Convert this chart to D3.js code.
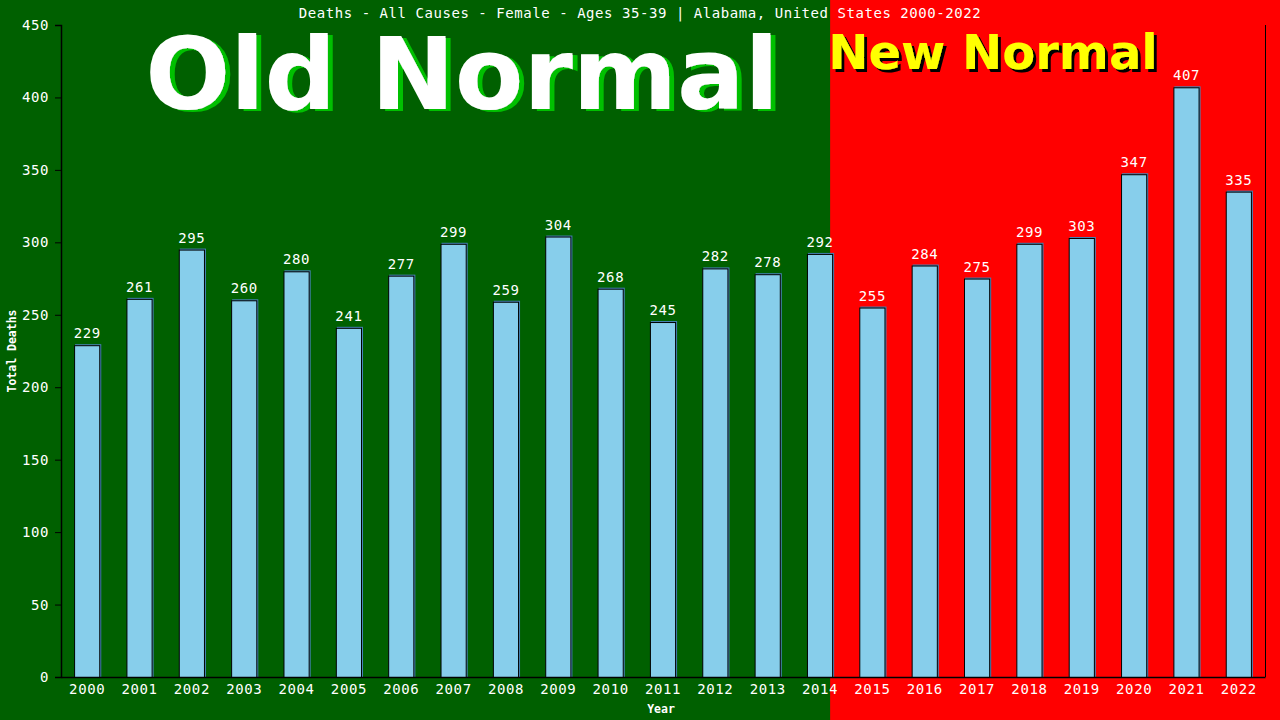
<!DOCTYPE html>
<html><head><meta charset="utf-8">
<script src="https://cdn.jsdelivr.net/npm/d3@7"></script>
<style>html,body{margin:0;padding:0;background:#006000;}svg{display:block;}</style>
</head><body>
<svg id="c" width="1280" height="720"></svg>
<script>
const years = ["2000","2001","2002","2003","2004","2005","2006","2007","2008","2009","2010","2011","2012","2013","2014","2015","2016","2017","2018","2019","2020","2021","2022"];
const deaths = [229,261,295,260,280,241,277,299,259,304,268,245,282,278,292,255,284,275,299,303,347,407,335];
const yTicks = [0,50,100,150,200,250,300,350,400,450];
const titleText = "Deaths - All Causes - Female - Ages 35-39 | Alabama, United States 2000-2022";
const lastOldYear = "2014";

const W = 1280, H = 720;
const m = {l:61, r:15, t:25, b:43};
const svg = d3.select("#c");
const x = d3.scaleBand().domain(years).range([m.l, W - m.r]).paddingInner(0.5).paddingOuter(0.25);
const y = d3.scaleLinear().domain([0,450]).range([H - m.b, m.t]);
const mono = "'DejaVu Sans Mono', 'Liberation Mono', monospace";

const defs = svg.append("defs");
defs.append("filter").attr("id","shGreen").attr("x","-10%").attr("y","-10%").attr("width","120%").attr("height","130%")
  .append("feDropShadow").attr("dx",5).attr("dy",2).attr("stdDeviation",0).attr("flood-color","#00c000").attr("flood-opacity",1);
defs.append("filter").attr("id","shBlack").attr("x","-10%").attr("y","-10%").attr("width","120%").attr("height","130%")
  .append("feDropShadow").attr("dx",3).attr("dy",3).attr("stdDeviation",0).attr("flood-color","#000").attr("flood-opacity",1);

// backgrounds
const splitX = x(lastOldYear) + x.bandwidth() - 3;
svg.append("rect").attr("x",0).attr("y",0).attr("width",splitX).attr("height",H).attr("fill","#006000");
svg.append("rect").attr("x",splitX).attr("y",0).attr("width",W-splitX).attr("height",H).attr("fill","#ff0000");

// big labels
svg.append("text").attr("x",462).attr("y",109).attr("text-anchor","middle")
  .attr("font-family","'DejaVu Sans', sans-serif").attr("font-weight","bold").attr("font-size",100)
  .attr("fill","#ffffff").attr("filter","url(#shGreen)").text("Old Normal");
svg.append("text").attr("x",993).attr("y",69).attr("text-anchor","middle")
  .attr("font-family","'DejaVu Sans', sans-serif").attr("font-weight","bold").attr("font-size",48)
  .attr("fill","#ffff00").attr("filter","url(#shBlack)").text("New Normal");

// title
svg.append("text").attr("x",640).attr("y",18).attr("text-anchor","middle")
  .attr("font-family",mono).attr("font-size",14).attr("letter-spacing","0.55px")
  .attr("fill","#fff").text(titleText);

// bars
const bars = svg.append("g");
bars.selectAll("rect.sh").data(years).join("rect").attr("class","sh")
  .attr("x",d=>x(d)+1).attr("y",(d,i)=>y(deaths[i])-1)
  .attr("width",x.bandwidth()).attr("height",(d,i)=>y(0)-y(deaths[i])+1)
  .attr("fill","#4682b4");
bars.selectAll("rect.b").data(years).join("rect").attr("class","b")
  .attr("x",d=>x(d)+0.5).attr("y",(d,i)=>y(deaths[i])+0.5)
  .attr("width",x.bandwidth()-1).attr("height",(d,i)=>y(0)-y(deaths[i]))
  .attr("fill","#87ceeb").attr("stroke","#000").attr("stroke-width",1);
bars.selectAll("text").data(years).join("text")
  .attr("x",d=>x(d)+x.bandwidth()/2).attr("y",(d,i)=>y(deaths[i])-7)
  .attr("text-anchor","middle").attr("font-family",mono).attr("font-size",14)
  .attr("letter-spacing","0.6px")
  .attr("fill","#fff").text((d,i)=>deaths[i]);

// axes
const yAx = svg.append("g").attr("transform",`translate(${m.l},0)`)
  .call(d3.axisLeft(y).tickValues(yTicks).tickSize(6).tickPadding(6));
yAx.select(".domain").attr("stroke","#000").attr("stroke-width",1.5);
yAx.selectAll(".tick line").attr("stroke","#000");
yAx.selectAll(".tick text").attr("fill","#fff").attr("font-family",mono).attr("font-size",14)
  .attr("letter-spacing","0.6px");

const xAx = svg.append("g").attr("transform",`translate(0,${H-m.b})`)
  .call(d3.axisBottom(x).tickSize(0).tickPadding(7).tickSizeOuter(0));
xAx.select(".domain").attr("stroke","#000").attr("stroke-width",1.5);
xAx.selectAll(".tick text").attr("fill","#fff").attr("font-family",mono).attr("font-size",14)
  .attr("letter-spacing","0.6px");

// right border line
svg.append("line").attr("x1",W-m.r+0.5).attr("x2",W-m.r+0.5).attr("y1",m.t).attr("y2",H-m.b)
  .attr("stroke","#000").attr("stroke-width",1);

// axis titles
svg.append("text").attr("x",661).attr("y",713).attr("text-anchor","middle")
  .attr("font-family",mono).attr("font-weight","bold").attr("font-size",11.5).attr("fill","#fff").text("Year");
svg.append("text").attr("transform","translate(16,351) rotate(-90)").attr("text-anchor","middle")
  .attr("font-family",mono).attr("font-weight","bold").attr("font-size",11.5).attr("fill","#fff").text("Total Deaths");
</script>
</body></html>
